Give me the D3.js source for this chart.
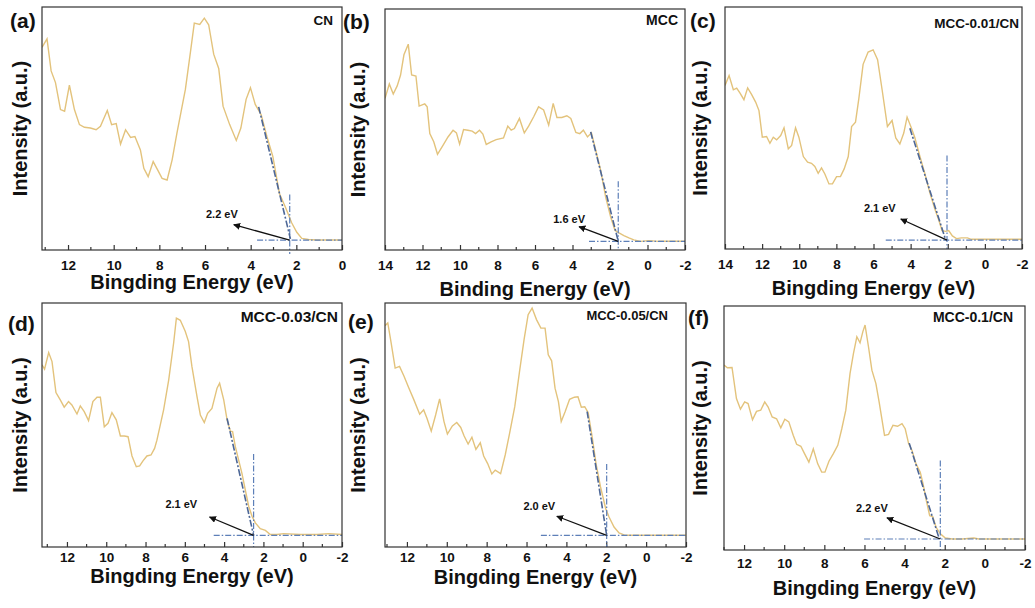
<!DOCTYPE html>
<html><head><meta charset="utf-8">
<script src="https://cdn.jsdelivr.net/npm/d3@7"></script>
<style>body{margin:0;background:#fff}svg{display:block}text{font-family:Arial,"Liberation Sans",sans-serif;font-weight:bold;fill:#111}</style>
</head><body><svg id="c" width="1035" height="608"></svg>
<script>
// ---------- DATA ----------
const panelLetters = ["(a)","(b)","(c)","(d)","(e)","(f)"];
const sampleNames = ["CN","MCC","MCC-0.01/CN","MCC-0.03/CN","MCC-0.05/CN","MCC-0.1/CN"];
const xTitles = ["Bingding Energy (eV)","Binding Energy (eV)","Bingding Energy (eV)","Bingding Energy (eV)","Bingding Energy (eV)","Bingding Energy (eV)"];
const yTitle = "Intensity (a.u.)";
const xDomains = [[13.14,0],[14,-2],[14,-2],[13.27,-2],[13.1,-2],[13,-2]];
const tickLabels = [[12,10,8,6,4,2,0],[14,12,10,8,6,4,2,0,-2],[14,12,10,8,6,4,2,0,-2],[12,10,8,6,4,2,0,-2],[12,10,8,6,4,2,0,-2],[12,10,8,6,4,2,0,-2]];
const gapLabels = ["2.2 eV","1.6 eV","2.1 eV","2.1 eV","2.0 eV","2.2 eV"];

const curveCN = [[13.14,83.4],[12.92,86.9],[12.74,73.7],[12.55,68.9],[12.33,57.8],[12.15,57.1],[11.94,67.8],[11.72,57.8],[11.50,51.6],[11.28,50.5],[11.02,50.2],[10.77,49.5],[10.58,50.9],[10.28,57.4],[10.09,51.6],[9.89,52.0],[9.70,43.6],[9.48,49.5],[9.26,46.3],[9.07,46.7],[8.83,41.2],[8.68,33.6],[8.49,30.2],[8.27,36.4],[8.07,32.9],[7.88,29.5],[7.66,28.8],[7.44,37.1],[7.23,48.1],[6.86,66.1],[6.64,81.3],[6.47,93.4],[6.23,92.8],[6.03,95.4],[5.84,92.7],[5.62,80.6],[5.40,74.7],[5.21,59.2],[4.92,51.6],[4.63,45.1],[4.43,50.2],[4.20,62.0],[4.01,66.8],[3.80,59.9],[3.54,55.7],[3.29,46.7],[3.03,38.5],[2.74,23.2],[2.45,17.0],[2.20,11.1],[1.98,7.3],[1.76,4.8],[1.47,4.3],[1.11,4.1],[0.38,4.1],[0,4.1]];
const curveMCC = [[14,62.9],[13.77,68.9],[13.56,64.7],[13.35,68.1],[13.17,72.6],[12.99,81.0],[12.76,85.4],[12.58,72.6],[12.35,72.2],[12.18,59.7],[11.88,60.6],[11.75,59.4],[11.61,48.3],[11.40,44.9],[11.20,39.7],[10.90,43.5],[10.64,46.9],[10.37,49.7],[10.19,48.6],[10.02,43.9],[9.81,50.0],[9.58,49.7],[9.35,49.3],[9.17,48.3],[8.96,49.7],[8.78,48.1],[8.60,43.8],[8.34,44.9],[8.07,45.8],[7.68,46.5],[7.45,51.4],[7.27,49.7],[7.10,50.4],[6.83,54.6],[6.57,48.6],[6.34,51.4],[6.07,55.3],[5.81,59.4],[5.54,58.1],[5.27,51.8],[5.03,60.8],[4.83,55.0],[4.57,55.0],[4.30,55.7],[4.09,54.6],[3.82,48.8],[3.61,48.3],[3.42,49.7],[3.20,46.9],[2.99,48.6],[2.76,41.4],[2.50,33.1],[2.23,21.9],[1.96,13.6],[1.73,8.1],[1.52,7.1],[1.26,6.0],[0.99,5.0],[0.73,4.2],[0.37,3.6],[-0.07,3.9],[-0.60,3.6],[-1.31,3.6],[-2,3.6]];
const curve001 = [[14,67.6],[13.78,71.7],[13.55,65.8],[13.37,66.5],[13.19,64.4],[12.98,61.7],[12.78,66.6],[12.57,63.9],[12.35,60.7],[12.17,57.2],[11.99,46.2],[11.76,46.5],[11.58,43.7],[11.40,46.2],[11.22,45.1],[11.00,46.9],[10.82,50.1],[10.59,41.4],[10.41,42.8],[10.20,50.1],[10.02,46.2],[9.78,38.2],[9.55,35.9],[9.34,35.4],[9.16,34.1],[8.98,31.3],[8.80,33.5],[8.62,31.0],[8.40,26.9],[8.21,26.9],[7.99,29.9],[7.78,29.9],[7.58,33.1],[7.36,38.2],[7.18,50.6],[6.97,52.4],[6.79,62.1],[6.56,76.3],[6.29,81.4],[6.02,82.3],[5.78,78.2],[5.53,65.5],[5.25,50.6],[5.00,53.1],[4.80,45.9],[4.58,43.4],[4.37,47.9],[4.19,54.5],[3.99,50.6],[3.78,46.2],[3.51,38.6],[3.24,31.3],[2.97,23.4],[2.70,16.6],[2.47,11.7],[2.31,7.6],[2.11,7.3],[1.95,7.6],[1.75,5.4],[1.53,4.3],[1.26,4.6],[0.94,4.6],[0.73,4.0],[0.01,4.0],[-1.07,4.0],[-2,4.0]];
const curve003 = [[13.27,74.7],[13.14,72.9],[12.93,79.7],[12.76,76.0],[12.56,63.3],[12.34,60.3],[12.14,57.3],[11.92,59.6],[11.75,58.2],[11.49,54.5],[11.32,57.8],[11.12,55.5],[10.90,51.8],[10.68,59.6],[10.47,61.4],[10.30,61.4],[10.10,49.3],[9.91,50.7],[9.71,55.1],[9.49,52.1],[9.28,45.5],[9.08,45.5],[8.89,45.2],[8.69,37.3],[8.47,32.9],[8.30,33.2],[8.13,35.3],[7.93,37.3],[7.72,37.7],[7.54,40.4],[7.42,43.8],[7.08,56.2],[6.82,68.5],[6.57,83.6],[6.43,93.8],[6.23,92.9],[5.98,88.4],[5.81,84.2],[5.64,74.0],[5.38,61.6],[5.21,54.1],[5.01,51.0],[4.84,54.8],[4.62,56.8],[4.36,65.1],[4.23,67.1],[4.02,60.3],[3.85,52.1],[3.68,47.5],[3.57,47.3],[3.43,41.1],[3.26,35.6],[3.09,30.1],[2.92,23.3],[2.75,16.7],[2.58,12.6],[2.41,9.9],[2.16,7.5],[1.90,6.8],[1.65,5.1],[1.31,5.1],[0.97,5.5],[0.12,5.1],[-0.73,5.1],[-1.32,5.5],[-2,5.1]];
const curve005 = [[13.10,90.7],[12.96,91.8],[12.79,83.6],[12.59,73.3],[12.37,74.0],[12.14,69.9],[11.92,65.5],[11.66,60.5],[11.36,54.4],[11.16,56.2],[10.99,52.7],[10.78,47.5],[10.56,54.1],[10.36,60.7],[10.14,51.4],[9.97,46.3],[9.72,49.6],[9.50,51.0],[9.30,49.0],[9.13,45.5],[8.93,42.2],[8.74,45.0],[8.54,40.0],[8.32,42.7],[8.15,37.3],[7.95,34.2],[7.74,29.9],[7.57,31.5],[7.30,30.1],[7.07,37.7],[6.85,46.6],[6.59,57.5],[6.34,72.6],[6.12,85.2],[5.92,95.2],[5.72,97.9],[5.50,93.2],[5.28,89.7],[5.07,89.7],[4.91,78.8],[4.74,76.3],[4.57,65.1],[4.40,59.6],[4.26,51.4],[4.06,55.5],[3.84,60.5],[3.60,61.4],[3.42,61.6],[3.25,57.3],[3.08,57.5],[2.91,55.1],[2.71,45.2],[2.51,34.0],[2.29,24.7],[2.03,15.8],[1.86,12.3],[1.61,8.2],[1.36,5.8],[1.05,4.8],[0.51,4.8],[-0.33,4.8],[-1.51,4.8],[-2,4.8]];
const curve01 = [[13.0,75.8],[12.83,74.7],[12.60,74.8],[12.38,62.1],[12.18,57.7],[11.97,60.7],[11.80,60.0],[11.58,53.4],[11.38,56.8],[11.17,57.3],[10.97,60.7],[10.80,58.6],[10.60,54.5],[10.38,53.8],[10.17,50.1],[9.97,53.6],[9.77,52.5],[9.55,47.0],[9.38,43.3],[9.17,42.5],[9.00,39.7],[8.77,36.0],[8.55,41.5],[8.33,35.3],[8.13,31.9],[7.97,31.9],[7.77,36.4],[7.55,39.5],[7.33,42.9],[7.13,49.7],[6.93,57.3],[6.72,72.3],[6.55,80.5],[6.38,87.4],[6.22,84.9],[6.08,89.5],[5.97,92.2],[5.80,83.3],[5.63,73.7],[5.43,68.2],[5.27,60.7],[5.00,47.0],[4.80,47.4],[4.58,51.1],[4.35,50.7],[4.13,51.8],[3.97,49.7],[3.80,43.6],[3.63,40.8],[3.43,35.3],[3.22,31.9],[3.08,27.1],[2.92,20.3],[2.75,14.1],[2.60,13.7],[2.43,9.3],[2.22,6.6],[1.97,4.9],[1.63,4.5],[1.13,4.5],[0.55,4.9],[0.30,4.5],[-0.87,4.5],[-2,4.5]];
const curves = [curveCN, curveMCC, curve001, curve003, curve005, curve01];

// band-edge extrapolation annotations (energy, intensity)
const tangentLines = [[[3.65,58.9],[2.26,4.6]],[[3.03,49.0],[1.56,3.6]],[[4.04,49.9],[2.11,3.7]],[[3.85,52.7],[2.50,4.8]],[[2.96,55.5],[1.98,4.8]],[[3.77,43.8],[2.27,4.5]]];
const edgeEnergies = [2.29,1.56,2.04,2.50,1.98,2.22];
const baselineLevels = [4.1,3.6,3.7,4.8,4.8,4.5];
const baselineStarts = [3.72,3.12,5.34,4.53,5.28,6.02];
const verticalTops = [22.8,28.5,38.6,38.1,34.0,36.7];
const arrowHeads = [[4.74,10.4],[3.65,9.7],[4.53,12.4],[4.74,12.3],[4.48,12.6],[4.88,13.2]];
const gapLabelAt = [[5.26,14.9],[4.18,12.9],[5.66,17.0],[6.18,17.5],[5.36,16.8],[5.63,17.3]];

// ---------- LAYOUT ----------
const frames = [
 {x0:42,x1:342,y0:7,y1:250,tkY:15,tY:289,yT:20,lx:10,ly:28,nameDx:9,nameY:25,nameFs:13.5},
 {x0:385,x1:685,y0:9,y1:250,tkY:15,tY:296,yT:358,lx:343,ly:29,nameDx:7,nameY:25,nameFs:14},
 {x0:725,x1:1022,y0:7,y1:249,tkY:15,tY:295,yT:700,lx:690,ly:28,nameDx:3,nameY:28,nameFs:13.5},
 {x0:42,x1:342,y0:303,y1:547,tkY:10,tY:583,yT:20,lx:8,ly:331,nameDx:4,nameY:322,nameFs:15.5},
 {x0:385,x1:686,y0:303,y1:547,tkY:10,tY:584,yT:358,lx:348,ly:329,nameDx:18,nameY:320,nameFs:13},
 {x0:724,x1:1025,y0:306,y1:550,tkY:13,tY:595,yT:700,lx:688,ly:325,nameDx:12,nameY:322,nameFs:14}
];
const curveColor = "#e3c37c", dashColor = "#5d7fb8", slopeColor = "#4d6797";

const svg = d3.select("#c");
const defs = svg.append("defs");
defs.append("marker").attr("id","ah").attr("viewBox","0 0 10 10")
  .attr("refX",9).attr("refY",5).attr("markerWidth",7).attr("markerHeight",7)
  .attr("markerUnits","userSpaceOnUse").attr("orient","auto")
  .append("path").attr("d","M0,0L10,5L0,10z").attr("fill","#111");

frames.forEach((f,i)=>{
  const x = d3.scaleLinear().domain(xDomains[i]).range([f.x0,f.x1]);
  const y = d3.scaleLinear().domain([0,100]).range([f.y1,f.y0]);
  const g = svg.append("g");
  const cid = "clip"+i;
  defs.append("clipPath").attr("id",cid).append("rect")
    .attr("x",f.x0).attr("y",f.y0).attr("width",f.x1-f.x0).attr("height",f.y1-f.y0);
  const [d0,d1] = xDomains[i];
  const minors = d3.range(Math.ceil(Math.min(d0,d1)), Math.floor(Math.max(d0,d1))+1).filter(v=>Math.abs(v%2)===1);
  const axis = d3.axisBottom(x).tickValues(tickLabels[i]).tickSize(-5).tickFormat(d3.format("d"));
  const ag = g.append("g").attr("transform",`translate(0,${f.y1})`).call(axis);
  ag.select(".domain").remove();
  ag.selectAll(".tick line").attr("stroke","#333").attr("stroke-width",1.2);
  ag.selectAll(".tick text").attr("y",f.tkY).attr("dy","0.35em").attr("font-size",13.5)
    .attr("font-family","Arial,'Liberation Sans',sans-serif").attr("font-weight","bold").attr("fill","#111")
    .text(d=>String(d));
  g.append("g").selectAll("line").data(minors).join("line")
    .attr("x1",d=>x(d)).attr("x2",d=>x(d)).attr("y1",f.y1).attr("y2",f.y1-3)
    .attr("stroke","#333").attr("stroke-width",1.2);
  const line = d3.line().x(d=>x(d[0])).y(d=>y(d[1]));
  g.append("path").datum(curves[i]).attr("d",line).attr("fill","none")
    .attr("stroke",curveColor).attr("stroke-width",1.4).attr("clip-path",`url(#${cid})`);
  const e = edgeEnergies[i];
  g.append("line").attr("x1",x(baselineStarts[i])).attr("x2",f.x1).attr("y1",y(baselineLevels[i])).attr("y2",y(baselineLevels[i]))
    .attr("stroke",dashColor).attr("stroke-width",1.2).attr("stroke-dasharray","6,2,1.5,2");
  g.append("line").attr("x1",x(e)).attr("x2",x(e)).attr("y1",y(verticalTops[i])).attr("y2",f.y1+(i===0?4:0))
    .attr("stroke",dashColor).attr("stroke-width",1.2).attr("stroke-dasharray","6,2,1.5,2");
  const t = tangentLines[i];
  g.append("line").attr("x1",x(t[0][0])).attr("y1",y(t[0][1])).attr("x2",x(t[1][0])).attr("y2",y(t[1][1]))
    .attr("stroke",slopeColor).attr("stroke-width",1.6).attr("stroke-dasharray","7,2,2,2");
  g.append("line").attr("x1",x(e)).attr("y1",y(baselineLevels[i])).attr("x2",x(arrowHeads[i][0])).attr("y2",y(arrowHeads[i][1]))
    .attr("stroke","#111").attr("stroke-width",1.3).attr("marker-end","url(#ah)");
  g.append("text").attr("x",x(gapLabelAt[i][0])).attr("y",y(gapLabelAt[i][1])).attr("dy","0.35em")
    .attr("text-anchor","middle").attr("font-size",11).text(gapLabels[i]);
  g.append("rect").attr("x",f.x0).attr("y",f.y0).attr("width",f.x1-f.x0).attr("height",f.y1-f.y0)
    .attr("fill","none").attr("stroke","#333").attr("stroke-width",1.2);
  g.append("text").attr("x",f.lx).attr("y",f.ly).attr("font-size",21).text(panelLetters[i]);
  g.append("text").attr("x",f.x1-f.nameDx).attr("y",f.nameY).attr("text-anchor","end").attr("font-size",f.nameFs).text(sampleNames[i]);
  g.append("text").attr("x",(f.x0+f.x1)/2).attr("y",f.tY).attr("text-anchor","middle").attr("font-size",20).text(xTitles[i]);
  g.append("text").attr("transform",`translate(${f.yT+7},${(f.y0+f.y1)/2}) rotate(-90)`).attr("text-anchor","middle")
    .attr("font-size",20).text(yTitle);
});
</script></body></html>
